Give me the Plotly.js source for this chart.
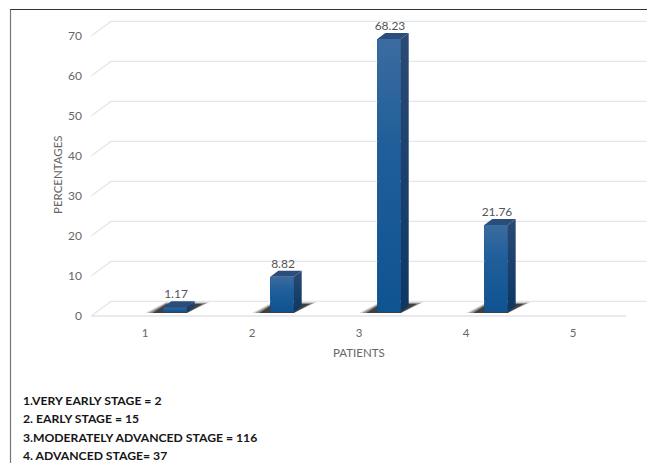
<!DOCTYPE html>
<html>
<head>
<meta charset="utf-8">
<script src="https://cdn.plot.ly/plotly-3.0.1.min.js"></script>
<style>html,body{margin:0;padding:0;background:#fff;overflow:hidden}#c{width:647px;height:463px}</style>
</head>
<body>
<div id="c"></div>
<script>
const categories = [1, 2, 3, 4, 5];
const barCategories = [1, 2, 3, 4];
const percentages = [1.17, 8.82, 68.23, 21.76];
const barLabels = ["1.17", "8.82", "68.23", "21.76"];
const yTicks = [0, 10, 20, 30, 40, 50, 60, 70];
const xTitle = "PATIENTS";
const yTitle = "PERCENTAGES";
const notes = [
  "1.VERY EARLY STAGE = 2",
  "2. EARLY STAGE = 15",
  "3.MODERATELY ADVANCED STAGE = 116",
  "4. ADVANCED STAGE= 37"
];

const W = 647, H = 463;
const M = {l: 91, r: 0, t: 10, b: 143};
const xRange = [0.495, 5.692];
const pxX = (W - M.l - M.r) / (xRange[1] - xRange[0]);
const yRange = [-(H - M.b - 316) / 4, (316 - M.t) / 4];
const pxY = 4;
const ux = p => p / pxX, uy = p => p / pxY;
const toPaperX = p => (p - M.l) / (W - M.l - M.r);
const toPaperY = p => 1 - (p - M.t) / (H - M.t - M.b);

const traces = [];
const line = (x, y, color, width) => traces.push({
  type: 'scatter', mode: 'lines', x, y, line: {color, width}, hoverinfo: 'skip', showlegend: false, cliponaxis: false
});
const poly = (x, y, extra) => traces.push(Object.assign({
  type: 'scatter', mode: 'lines', x, y, fill: 'toself', line: {width: 0}, hoverinfo: 'skip', showlegend: false
}, extra));

// Perspective wall + floor lines
const wallDx = ux(20), wallDy = uy(14.6);
yTicks.forEach(v => line(
  [xRange[0], xRange[0] + wallDx, xRange[1]],
  [v, v + wallDy, v + wallDy],
  '#e4e6e8', 1.4
));
line([xRange[0], 1 + 481 / pxX], [0, 0], '#dfe4ea', 1.6);

const base = uy(4);                // bars stand on the floor, 4px behind its front edge
const shiftX = ux(30);             // bars sit right of their tick label
const halfW = ux(11.7);
const dx = ux(8), dy = uy(6);

// Shadows
const shadowLayers = [
  {l: 18, r: 23, h: 11, c: 'rgba(130,130,130,0.35)'},
  {l: 15, r: 20, h: 10, c: 'rgba(80,80,80,0.55)'},
  {l: 11, r: 16, h: 9,  c: 'rgba(45,45,45,0.8)'}
];
barCategories.forEach(c => {
  const x0 = c + shiftX - halfW, x1 = c + shiftX + halfW;
  shadowLayers.forEach(s => {
    const by = base - uy(1), ty = by + uy(s.h);
    poly([x0 - ux(s.l), x1, x1 + ux(s.r), x0 + ux(3), x0 - ux(s.l)],
         [by, by, ty, ty, by],
         {fillcolor: s.c});
  });
});

// Real bar trace (front faces)
traces.push({
  type: 'bar', x: barCategories.map(c => c + shiftX), y: percentages, base: base,
  width: halfW * 2, marker: {color: '#1b5a96', line: {width: 0}},
  hoverinfo: 'y', showlegend: false
});

// 3D faces with gradients
barCategories.forEach((c, i) => {
  const x0 = c + shiftX - halfW, x1 = c + shiftX + halfW;
  const b = base, t = base + percentages[i];
  poly([x1, x1 + dx, x1 + dx, x1, x1], [b, b + dy, t + dy, t, b], {
    fillgradient: {type: 'vertical', colorscale: [[0, '#0d3763'], [1, '#2b4a74']]}
  });
  poly([x0, x1, x1, x0, x0], [b, b, t, t, b], {
    fillgradient: {type: 'vertical', colorscale: [[0, '#0f5391'], [0.6, '#1f5e9a'], [1, '#3b6c9f']]}
  });
  poly([x0, x1, x1 + dx, x0 + dx, x0], [t, t, t + dy, t + dy, t], {fillcolor: '#2b4d7b'});
});

// Value labels
traces.push({
  type: 'scatter', mode: 'text',
  x: barCategories.map(c => c + shiftX + ux(1)),
  y: percentages.map(v => v + base + dy + uy(6)),
  text: barLabels, textposition: 'middle center',
  textfont: {family: 'Lato, sans-serif', size: 12, color: '#555'},
  hoverinfo: 'skip', showlegend: false, cliponaxis: false
});

const noteY = [400, 418, 437, 455];
const annotations = notes.map((t, i) => ({
  text: '<b>' + t + '</b>', xref: 'paper', yref: 'paper',
  x: toPaperX(21), y: toPaperY(noteY[i]),
  xanchor: 'left', yanchor: 'middle', showarrow: false, align: 'left',
  font: {family: 'Lato, sans-serif', size: 12.2, color: '#161616'}
}));
annotations.push({
  text: xTitle, xref: 'paper', yref: 'paper', x: toPaperX(359), y: toPaperY(352),
  xanchor: 'center', yanchor: 'middle', showarrow: false,
  font: {family: 'Lato, sans-serif', size: 11.5, color: '#666'}
});
annotations.push({
  text: yTitle, xref: 'paper', yref: 'paper', x: toPaperX(57), y: toPaperY(175), textangle: -90,
  xanchor: 'center', yanchor: 'middle', showarrow: false,
  font: {family: 'Lato, sans-serif', size: 11.5, color: '#666'}
});

const layout = {
  width: W, height: H,
  margin: M,
  paper_bgcolor: '#fff', plot_bgcolor: 'rgba(0,0,0,0)',
  showlegend: false,
  bargap: 0,
  xaxis: {
    range: xRange, tickmode: 'array', tickvals: categories, ticktext: categories.map(String),
    showgrid: false, zeroline: false, showline: false, ticks: '', ticklabelstandoff: 4,
    tickfont: {family: 'Lato, sans-serif', size: 11.5, color: '#666'}
  },
  yaxis: {
    range: yRange, tickmode: 'array', tickvals: yTicks, ticktext: yTicks.map(String),
    showgrid: false, zeroline: false, showline: false, ticks: '', ticklabelstandoff: 8,
    tickfont: {family: 'Lato, sans-serif', size: 12, color: '#666'}
  },
  shapes: [
    {type: 'line', xref: 'paper', yref: 'paper', x0: toPaperX(10), x1: toPaperX(647), y0: toPaperY(9.5), y1: toPaperY(9.5), line: {color: '#333', width: 1.2}},
    {type: 'line', xref: 'paper', yref: 'paper', x0: toPaperX(10.5), x1: toPaperX(10.5), y0: toPaperY(9.5), y1: toPaperY(463), line: {color: '#777', width: 1.2}}
  ],
  annotations
};
Plotly.newPlot('c', traces, layout, {displayModeBar: false, staticPlot: true});
</script>
</body>
</html>
